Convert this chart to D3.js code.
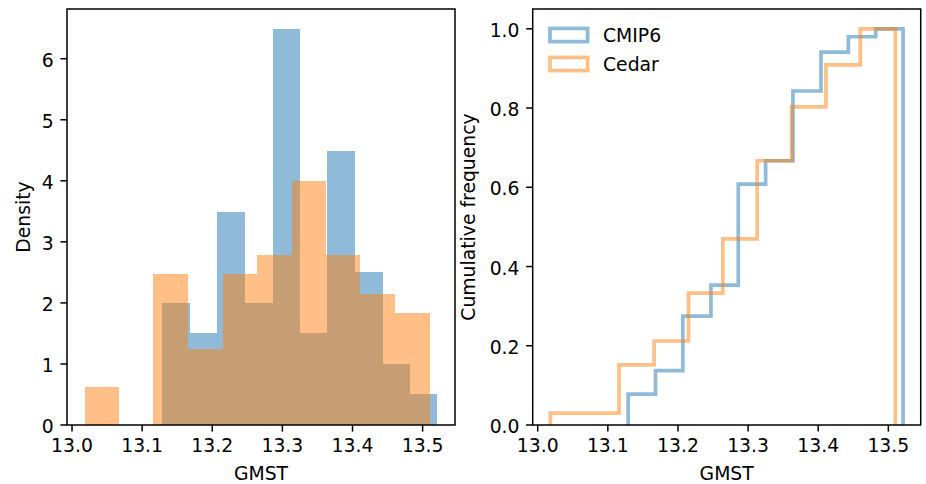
<!DOCTYPE html>
<html>
<head>
<meta charset="utf-8">
<script src="https://cdn.jsdelivr.net/npm/d3@7/dist/d3.min.js"></script>
<style>
  html, body { margin: 0; padding: 0; background: #fff; }
  svg { display: block; }
  text { font-family: "DejaVu Sans", sans-serif; fill: #000; }
</style>
</head>
<body>
<div id="chart"></div>
<script>
// ---------------- data ----------------
const seriesNames = ["CMIP6", "Cedar"];
const seriesColors = ["#1f77b4", "#ff7f0e"];

// bin edges (GMST)
const cmip6Edges = [13.129, 13.168, 13.207, 13.247, 13.286, 13.325, 13.364, 13.404, 13.443, 13.482, 13.521];
const cedarEdges = [13.018, 13.067, 13.116, 13.166, 13.215, 13.264, 13.313, 13.362, 13.411, 13.460, 13.510];

// density per bin (left panel)
const cmip6Density = [2.0, 1.5, 3.49, 2.0, 6.49, 1.5, 4.49, 2.5, 1.0, 0.5];
const cedarDensity = [0.62, 0, 2.47, 1.24, 2.47, 2.78, 4.0, 2.78, 2.14, 1.84];

// cumulative frequency per bin (right panel)
const cmip6Cumulative = [0.078, 0.137, 0.275, 0.353, 0.608, 0.667, 0.843, 0.941, 0.980, 1.0];
const cedarCumulative = [0.030, 0.030, 0.152, 0.212, 0.333, 0.470, 0.667, 0.803, 0.909, 1.0];

const xTicks = [13.0, 13.1, 13.2, 13.3, 13.4, 13.5];
const densityTicks = [0, 1, 2, 3, 4, 5, 6];
const cumulativeTicks = [0, 0.2, 0.4, 0.6, 0.8, 1.0];

const xLabel = "GMST";
const leftYLabel = "Density";
const rightYLabel = "Cumulative frequency";

// ---------------- layout ----------------
const W = 926, H = 484;
const FS = 18.8;
const TICK = 6.6, PAD = 6.6, AXW = 1.5;
const axTop = 9, axBottom = 425;
const leftPanel = { x0: 67, x1: 455 };
const rightPanel = { x0: 532.7, x1: 920.7 };

const svg = d3.select("#chart").append("svg")
  .attr("width", W).attr("height", H)
  .attr("viewBox", `0 0 ${W} ${H}`);

// x domain like matplotlib: data extent with 5% margins
const allEdges = cmip6Edges.concat(cedarEdges);
const [xmin, xmax] = d3.extent(allEdges);
const xm = (xmax - xmin) * 0.05;
const xDomain = [xmin - xm, xmax + xm];

function makeAxes(panel, yDomain, yTicks, yFmt, yLabel, yLabelX, clipId) {
  const x = d3.scaleLinear().domain(xDomain).range([panel.x0, panel.x1]);
  const y = d3.scaleLinear().domain(yDomain).range([axBottom, axTop]);
  const g = svg.append("g");
  svg.append("clipPath").attr("id", clipId).append("rect")
    .attr("x", panel.x0).attr("y", axTop)
    .attr("width", panel.x1 - panel.x0).attr("height", axBottom - axTop);
  const plot = g.append("g").attr("clip-path", `url(#${clipId})`);
  return { x, y, g, plot, panel, yTicks, yFmt, yLabel, yLabelX };
}

function finishAxes(a) {
  const { x, y, g, panel } = a;
  g.append("rect")
    .attr("x", panel.x0).attr("y", axTop)
    .attr("width", panel.x1 - panel.x0).attr("height", axBottom - axTop)
    .attr("fill", "none").attr("stroke", "#000").attr("stroke-width", AXW);
  const xt = g.append("g");
  xTicks.forEach(t => {
    const px = x(t);
    xt.append("line").attr("x1", px).attr("x2", px)
      .attr("y1", axBottom).attr("y2", axBottom + TICK)
      .attr("stroke", "#000").attr("stroke-width", AXW);
    xt.append("text").attr("x", px).attr("y", axBottom + TICK + PAD + 14.2)
      .attr("text-anchor", "middle").attr("font-size", FS)
      .text(d3.format(".1f")(t));
  });
  const yt = g.append("g");
  a.yTicks.forEach(t => {
    const py = y(t);
    yt.append("line").attr("x1", panel.x0).attr("x2", panel.x0 - TICK)
      .attr("y1", py).attr("y2", py)
      .attr("stroke", "#000").attr("stroke-width", AXW);
    yt.append("text").attr("x", panel.x0 - TICK - PAD).attr("y", py + 8.2)
      .attr("text-anchor", "end").attr("font-size", FS)
      .text(a.yFmt(t));
  });
  g.append("text")
    .attr("x", (panel.x0 + panel.x1) / 2).attr("y", 479.5)
    .attr("text-anchor", "middle").attr("font-size", FS)
    .text(xLabel);
  g.append("text")
    .attr("transform", `translate(${a.yLabelX},${(axTop + axBottom) / 2}) rotate(-90)`)
    .attr("text-anchor", "middle").attr("font-size", FS)
    .text(a.yLabel);
}

// ---------------- left panel: density histograms ----------------
const ymaxDensity = d3.max(cmip6Density.concat(cedarDensity)) * 1.05;
const L = makeAxes(leftPanel, [0, ymaxDensity], densityTicks, d3.format("d"), leftYLabel, 30, "clipL");

[[cmip6Edges, cmip6Density], [cedarEdges, cedarDensity]].forEach(([edges, dens], si) => {
  L.plot.append("g").selectAll("rect")
    .data(dens)
    .join("rect")
    .attr("x", (d, i) => L.x(edges[i]))
    .attr("width", (d, i) => L.x(edges[i + 1]) - L.x(edges[i]))
    .attr("y", d => L.y(d))
    .attr("height", d => L.y(0) - L.y(d))
    .attr("fill", seriesColors[si])
    .attr("fill-opacity", 0.5)
    .attr("shape-rendering", "crispEdges");
});
finishAxes(L);

// ---------------- right panel: cumulative step histograms ----------------
const R = makeAxes(rightPanel, [0, 1.05], cumulativeTicks, d3.format(".1f"), rightYLabel, 474.5, "clipR");
const line = d3.line().x(d => R.x(d[0])).y(d => R.y(d[1]));
[[cmip6Edges, cmip6Cumulative], [cedarEdges, cedarCumulative]].forEach(([edges, cum], si) => {
  const pts = [[edges[0], 0]];
  cum.forEach((c, i) => { pts.push([edges[i], c]); pts.push([edges[i + 1], c]); });
  pts.push([edges[edges.length - 1], 0]);
  R.plot.append("path")
    .attr("d", line(pts))
    .attr("fill", "none")
    .attr("stroke", seriesColors[si])
    .attr("stroke-opacity", 0.5)
    .attr("stroke-width", 3.7)
    .attr("stroke-linejoin", "miter");
});
finishAxes(R);

// legend
const leg = svg.append("g");
seriesNames.forEach((name, i) => {
  const cy = 35 + i * 29;
  leg.append("rect")
    .attr("x", 550).attr("y", cy - 6.6)
    .attr("width", 37.6).attr("height", 13.2)
    .attr("fill", "none")
    .attr("stroke", seriesColors[i])
    .attr("stroke-opacity", 0.5)
    .attr("stroke-width", 3.7);
  leg.append("text")
    .attr("x", 603).attr("y", cy + 7)
    .attr("font-size", FS)
    .text(name);
});
</script>
</body>
</html>
